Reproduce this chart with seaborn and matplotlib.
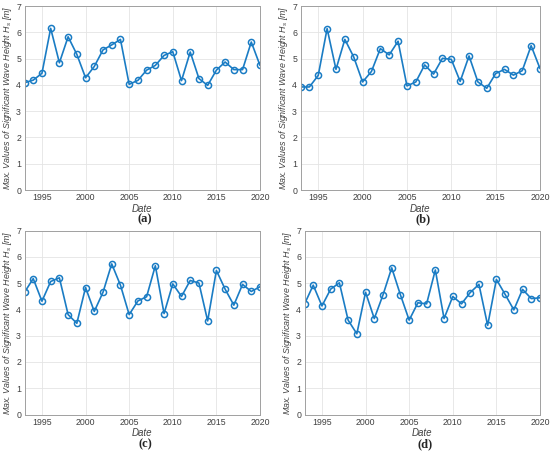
import matplotlib
matplotlib.use("Agg")
import matplotlib.pyplot as plt
import numpy as np
import pandas as pd
import seaborn as sns

years = list(range(1993, 2021))

hs_a = [4.08, 4.18, 4.44, 6.15, 4.84, 5.83, 5.16, 4.27, 4.70, 5.33, 5.52, 5.73, 4.02, 4.17,
        4.56, 4.74, 5.12, 5.26, 4.16, 5.25, 4.24, 3.98, 4.56, 4.87, 4.58, 4.58, 5.63, 4.74]
hs_b = [3.92, 3.92, 4.36, 6.14, 4.59, 5.73, 5.06, 4.11, 4.51, 5.38, 5.14, 5.66, 3.96, 4.11,
        4.76, 4.41, 5.01, 4.97, 4.13, 5.10, 4.11, 3.87, 4.43, 4.59, 4.37, 4.54, 5.49, 4.62]
hs_c = [4.65, 5.17, 4.31, 5.06, 5.20, 3.80, 3.47, 4.83, 3.92, 4.65, 5.73, 4.92, 3.80, 4.32,
        4.48, 5.66, 3.84, 4.97, 4.49, 5.10, 5.00, 3.56, 5.48, 4.77, 4.16, 4.95, 4.68, 4.86]
hs_d = [4.20, 4.92, 4.13, 4.77, 5.01, 3.59, 3.07, 4.65, 3.65, 4.55, 5.58, 4.55, 3.59, 4.25,
        4.21, 5.50, 3.65, 4.49, 4.21, 4.64, 4.95, 3.39, 5.14, 4.57, 3.98, 4.76, 4.41, 4.44]

panel_labels = ["(a)", "(b)", "(c)", "(d)"]
x_ticks = [1995, 2000, 2005, 2010, 2015, 2020]
y_ticks = [0, 1, 2, 3, 4, 5, 6, 7]

sns.set_theme(style="whitegrid")
plt.rcParams["font.family"] = ["Liberation Sans", "DejaVu Sans"]
plt.rcParams["mathtext.fontset"] = "custom"
plt.rcParams["mathtext.it"] = "Liberation Sans:italic"
plt.rcParams["mathtext.rm"] = "Liberation Sans:italic"

W, H = 550, 455
fig = plt.figure(figsize=(5.5, 4.55), dpi=100)
fig.patch.set_facecolor("white")

# axes boxes in pixels: left, top, right, bottom
boxes = [(24.5, 6, 260, 190), (300.5, 6, 540, 190),
         (24.5, 230.5, 260, 414.5), (304.5, 230.5, 540, 414.5)]
series = [hs_a, hs_b, hs_c, hs_d]

blue = "#1a7cc4"
for box, vals, lab in zip(boxes, series, panel_labels):
    l, t, r, b = box
    ax = fig.add_axes([l / W, 1 - b / H, (r - l) / W, (b - t) / H])
    df = pd.DataFrame({"Date": years, "Hs": vals})
    sns.lineplot(data=df, x="Date", y="Hs", ax=ax, color=blue, linewidth=1.2,
                 marker="o", markersize=4.4, markerfacecolor="none",
                 markeredgecolor=blue, markeredgewidth=1.1)
    ax.set_xlim(1993, 2020)
    ax.set_ylim(0, 7)
    ax.set_xticks(x_ticks)
    ax.set_yticks(y_ticks)
    ax.set_facecolor("white")
    ax.grid(True, color="#e4e4e4", linewidth=0.6)
    for s in ax.spines.values():
        s.set_color("#a0a0a0")
        s.set_linewidth(0.7)
    ax.tick_params(axis="both", labelsize=6.3, colors="#404040", length=2, width=0.5,
                   direction="in", pad=2.5, color="#a0a0a0")
    ax.set_xlabel("Date", fontsize=7, style="italic", color="#404040", labelpad=1)
    ax.set_ylabel("Max. Values of Significant Wave Height $H_s$ [m]", fontsize=6.4,
                  style="italic", color="#404040", labelpad=1.5)
    fig.text((l + r) / 2 / W + 0.005, 1 - (b + 29.5) / H, lab, ha="center", va="center",
             fontsize=9, fontweight="bold", family=["Liberation Serif"])

fig.savefig("out.png", dpi=100, facecolor="white")
